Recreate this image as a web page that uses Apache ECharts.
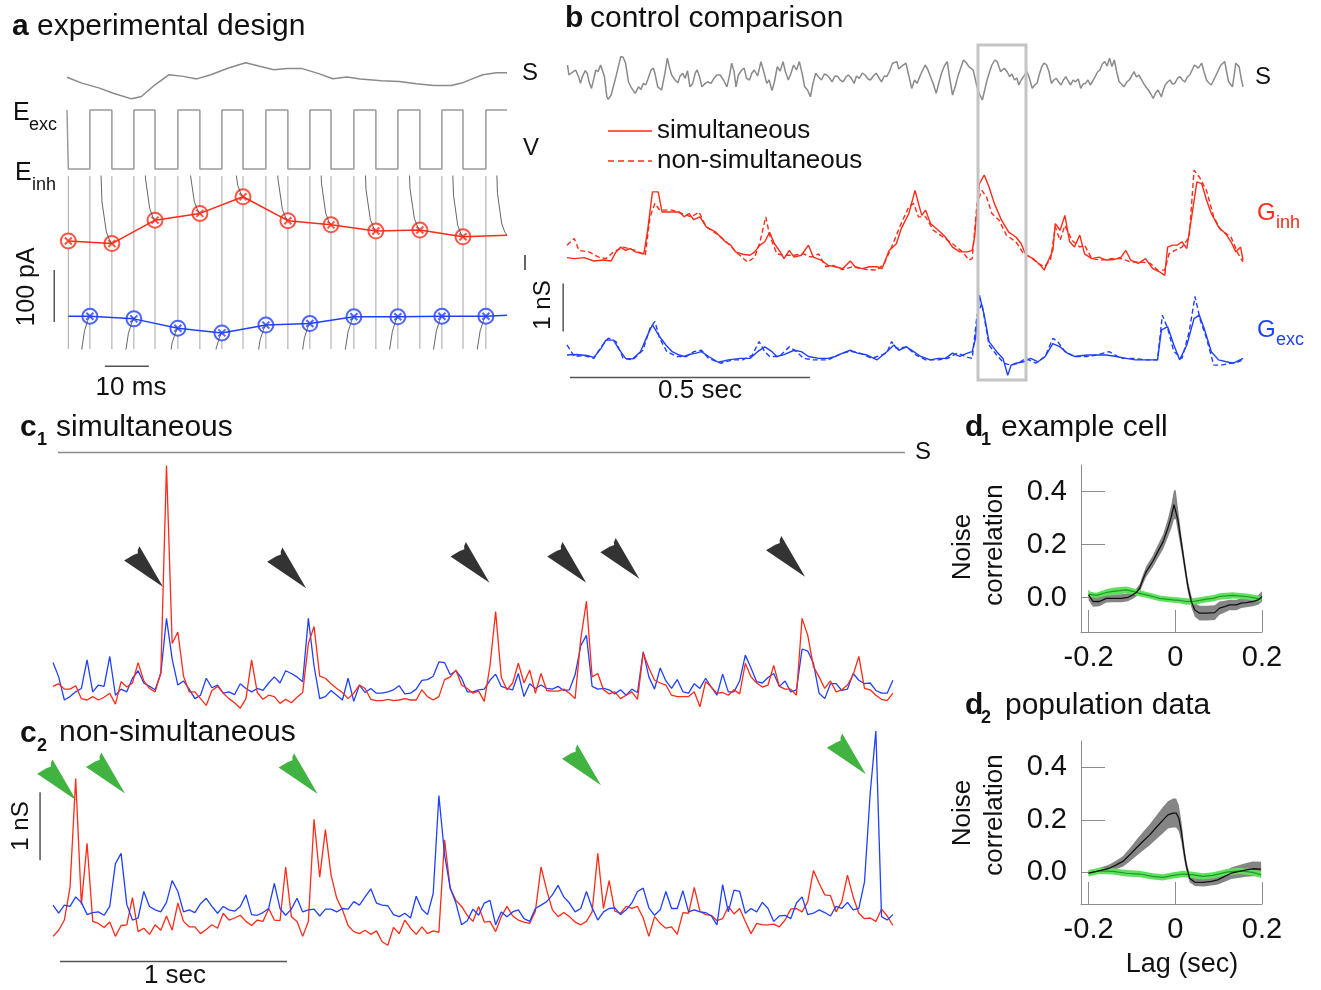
<!DOCTYPE html>
<html><head><meta charset="utf-8">
<script src="https://cdn.jsdelivr.net/npm/echarts@6/dist/echarts.min.js"></script>
<style>html,body{margin:0;padding:0;background:#fff}#c{width:1321px;height:990px}</style>
</head><body><div id="c"></div>
<script>
const RED='#ff2a17', BLUE='#2040ff', SGRAY='#8a8a8a';
const FONT='"Liberation Sans", Arial, sans-serif';

// ---------- panel a : experimental design (time in ms, current in pA) ----------
const aStim = [[0,0.18],[3.4,-0.1],[7.4,-0.34],[10.5,-0.58],[14.7,-0.85],[16.9,-0.74],[20,-0.18],[23.2,0.3],[26.4,0.22],[29.5,0.1],[32.7,0.3],[36.7,0.62],[40.6,0.87],[43.8,0.7],[47,0.54],[50.1,0.6],[53.3,0.6],[57.2,0.35],[60.4,0.11],[63.6,0.19],[66.7,0.1],[71.5,0.01],[75.5,-0.02],[79.4,-0.13],[83.4,-0.21],[87.3,-0.21],[89.7,-0.1],[92.1,0.1],[94.5,0.3],[97.6,0.39],[100,0.39]];
const aFallT = [0.3,10.2,20.0,30.2,40.0,50.2,60.0,70.2,80.2,90.0];
const aRiseT = [5.2,15.2,25.2,35.2,45.2,55.2,65.2,75.2,85.2,95.2];
const aEndT = 100;
const aVexc = 0, aVinh = -80;
const aInh = [38,33,78,91,123,77,69,57,59,46];
const aInhEnd = 49;
const aExc = [-107,-112,-130,-139,-124,-121,-108,-108,-107,-107];
const aExcStart = -107, aExcEnd = -105;
const aRelaxFromTop = [[0.4,260],[0.55,80],[0.75,22],[0.9,6],[1,0]];
const aRelaxFromBottom = [[0.45,-260],[0.6,-70],[0.75,-28],[0.9,-8],[1,0]];

// ---------- panel b : control comparison (time in ms, conductance in nS) ----------
const bStim = [[1,0.65],[4,0.15],[8,0.07],[13,0.32],[18,0.4],[24,0.07],[28,-0.27],[32,0.07],[38,0.37],[42,0.24],[46,-0.19],[51,-0.52],[56,-0.02],[60,0.4],[65,0.32],[70,0.65],[74,0.57],[78,0.07],[83,-0.94],[86,-1.07],[92,-0.85],[96,-0.77],[102,0.07],[107,0.57],[112,1.07],[117,1.04],[122,0.74],[128,-0.19],[133,-0.44],[142,-0.77],[149,-0.44],[154,-0.57],[159,-0.27],[164,-0.35],[169,-0.02],[175,0.4],[180,0.49],[183,0.24],[189,-0.44],[197,-0.6],[204,0.24],[209,0.99],[213,0.57],[218,0.15],[225,-0.1],[231,-0.24],[235,0.07],[241,0.24],[246,-0.02],[251,0.37],[256,-0.44],[262,-0.27],[267,0.24],[271,0.4],[276,0.07],[281,-0.44],[288,-0.27],[293,-0.19],[300,-0.27],[306,-0.02],[312,0.15],[319,0.15],[326,-0.1],[333,-0.44],[338,0.07],[343,0.74],[348,0.32],[352,-0.44],[357,0.15],[364,0.4],[369,0.49],[374,-0.02],[380,-0.1],[385,0.24],[390,0.4],[397,0.1],[404,0.82],[410,0.3],[416,-0.27],[421,-0.1],[427,-0.63],[432,-0.2],[438,0.57],[444,0.35],[450,0.82],[455,0.3],[461,-0.1],[466,0.2],[472,0.65],[478,0.4],[484,0.82],[490,0.2],[495,-0.44],[501,-0.6],[507,-0.94],[512,-0.3],[518,0.24],[524,0.05],[530,-0.1],[536,0.2],[541,0.15],[547,0.0],[552,-0.19],[558,0.1],[564,0.07],[569,-0.1],[575,-0.19],[581,0.05],[586,0.15],[592,0.0],[598,-0.27],[603,0.1],[609,-0.02],[615,0.25],[621,0.15],[627,-0.05],[632,-0.1],[638,0.1],[644,0.24],[650,0.0],[655,-0.19],[661,0.1],[666,0.07],[672,0.35],[678,0.74],[687,0.82],[691,0.45],[696,0.57],[706,0.74],[712,0.1],[718,-0.52],[724,-0.1],[729,-0.27],[737,0.2],[746,0.65],[751,0.45],[757,0.07],[763,-0.3],[769,-0.77],[775,-0.2],[780,0.24],[786,0.6],[792,0.82],[797,0.0],[803,-0.85],[809,-0.4],[814,0.07],[820,0.5],[826,0.9],[832,0.75],[837,0.57],[846,0.4],[854,-0.44],[859,-0.8],[865,-1.1],[870,-0.6],[875,-0.1],[880,0.3],[885,0.65],[891,0.9],[896,0.82],[903,0.32],[911,0.49],[917,0.3],[922,0.07],[927,0.2],[932,-0.1],[937,0.0],[941,-0.35],[946,-0.1],[951,0.07],[958,0.32],[963,0.0],[969,-0.52],[974,-0.35],[979,-0.27],[984,0.2],[989,0.57],[994,0.75],[999,0.65],[1004,0.3],[1009,-0.27],[1014,-0.1],[1019,-0.02],[1024,-0.2],[1029,-0.35],[1034,-0.1],[1039,0.07],[1044,-0.15],[1049,-0.35],[1054,-0.1],[1059,-0.19],[1065,-0.05],[1070,-0.52],[1075,-0.3],[1080,-0.27],[1085,-0.1],[1090,-0.35],[1095,-0.15],[1100,0.07],[1105,0.3],[1110,0.4],[1115,0.7],[1120,0.82],[1125,0.6],[1130,0.99],[1135,0.57],[1140,0.9],[1145,0.3],[1150,-0.19],[1155,-0.3],[1160,-0.44],[1166,-0.2],[1171,-0.1],[1176,0.1],[1181,0.32],[1186,0.05],[1191,0.15],[1196,-0.05],[1201,-0.27],[1206,-0.45],[1211,-0.6],[1216,-0.8],[1221,-1.02],[1226,-0.75],[1231,-0.6],[1238,-0.94],[1242,-0.6],[1246,-0.35],[1251,-0.2],[1256,-0.1],[1261,-0.3],[1266,-0.27],[1272,0.0],[1277,0.07],[1282,-0.1],[1287,-0.19],[1292,0.05],[1297,0.15],[1302,0.4],[1307,0.65],[1315,0.49],[1322,0.74],[1327,0.3],[1332,-0.1],[1337,-0.25],[1342,-0.35],[1347,-0.1],[1352,0.15],[1357,0.4],[1362,0.65],[1370,0.82],[1374,0.3],[1378,-0.19],[1386,-0.44],[1390,0.2],[1393,0.74],[1400,0.57],[1404,0.0],[1408,-0.44]];
const bInhSim = [[0,0.37],[15,0.35],[36,0.37],[56,0.30],[76,0.32],[92,0.30],[102,0.49],[112,0.59],[122,0.52],[132,0.56],[142,0.49],[160,0.45],[168,0.94],[178,1.74],[190,1.74],[198,1.32],[214,1.32],[234,1.32],[244,1.22],[254,1.29],[264,1.16],[277,1.22],[290,1.01],[310,0.90],[330,0.70],[341,0.63],[351,0.49],[366,0.44],[381,0.42],[391,0.49],[402,0.63],[412,0.70],[422,0.90],[432,0.66],[442,0.52],[452,0.35],[463,0.52],[473,0.38],[488,0.42],[503,0.63],[513,0.38],[529,0.32],[544,0.21],[559,0.18],[574,0.14],[590,0.30],[600,0.18],[615,0.14],[630,0.18],[646,0.18],[656,0.14],[671,0.52],[686,0.66],[696,0.97],[712,1.29],[725,1.77],[732,1.50],[739,1.25],[747,1.36],[757,1.08],[778,0.90],[788,0.80],[803,0.59],[818,0.49],[834,0.49],[844,0.52],[849,0.80],[859,1.91],[869,2.09],[879,1.84],[890,1.50],[905,1.15],[920,0.90],[935,0.80],[946,0.66],[956,0.42],[971,0.35],[986,0.21],[994,0.11],[1001,0.28],[1012,0.52],[1017,1.08],[1027,0.94],[1037,1.25],[1047,0.70],[1057,0.59],[1068,0.84],[1078,0.45],[1093,0.35],[1108,0.38],[1123,0.32],[1139,0.33],[1154,0.38],[1164,0.52],[1174,0.32],[1190,0.25],[1205,0.35],[1220,0.14],[1235,0.07],[1245,0.00],[1251,0.59],[1261,0.63],[1271,0.63],[1281,0.70],[1291,0.56],[1301,1.22],[1312,1.95],[1322,1.91],[1332,1.57],[1342,1.29],[1357,1.01],[1372,0.87],[1383,0.70],[1393,0.49],[1403,0.59],[1408,0.32]];
const bInhNon = [[0,0.63],[15,0.77],[25,0.52],[46,0.49],[66,0.38],[81,0.35],[97,0.49],[117,0.59],[142,0.52],[163,0.42],[173,1.22],[183,1.50],[193,1.36],[219,1.36],[239,1.29],[259,1.22],[275,1.32],[290,1.01],[315,0.84],[336,0.66],[356,0.45],[376,0.28],[391,0.38],[402,0.70],[414,1.22],[422,0.84],[437,0.45],[452,0.42],[473,0.42],[493,0.45],[508,0.38],[524,0.45],[539,0.18],[554,0.21],[574,0.12],[595,0.18],[625,0.12],[646,0.11],[661,0.25],[676,0.59],[696,1.08],[712,1.43],[722,1.50],[732,1.22],[747,1.22],[763,0.94],[783,0.80],[803,0.66],[824,0.49],[837,0.32],[844,0.35],[854,1.50],[864,1.77],[874,1.63],[885,1.29],[900,1.15],[915,0.84],[935,0.70],[951,0.45],[966,0.38],[981,0.25],[994,0.18],[1007,0.32],[1017,1.01],[1027,0.73],[1037,1.04],[1052,0.73],[1068,0.59],[1078,0.63],[1093,0.35],[1113,0.32],[1134,0.35],[1154,0.35],[1174,0.28],[1195,0.28],[1215,0.25],[1230,0.11],[1245,0.11],[1254,0.45],[1266,0.52],[1281,0.59],[1296,0.80],[1306,2.19],[1317,2.05],[1332,1.77],[1347,1.22],[1362,0.94],[1383,0.80],[1398,0.45],[1408,0.28]];
const bExcSim = [[0,0.22],[20,0.23],[41,0.21],[56,0.17],[71,0.36],[81,0.53],[97,0.53],[107,0.36],[122,0.15],[137,0.14],[153,0.29],[168,0.64],[178,0.85],[193,0.60],[206,0.43],[219,0.29],[234,0.22],[244,0.19],[254,0.23],[269,0.26],[280,0.29],[295,0.19],[315,0.07],[336,0.12],[361,0.15],[381,0.15],[397,0.29],[412,0.39],[427,0.29],[437,0.19],[452,0.23],[473,0.32],[488,0.29],[503,0.19],[524,0.15],[544,0.15],[559,0.19],[574,0.26],[590,0.32],[605,0.26],[625,0.22],[646,0.12],[666,0.29],[681,0.43],[691,0.32],[707,0.39],[722,0.29],[737,0.19],[757,0.12],[773,0.15],[788,0.15],[803,0.26],[818,0.19],[834,0.26],[844,0.29],[851,0.57],[859,1.47],[869,1.05],[879,0.50],[895,0.29],[908,0.15],[918,-0.20],[925,0.01],[935,0.05],[951,0.08],[966,0.15],[981,0.08],[996,0.19],[1012,0.46],[1027,0.39],[1042,0.26],[1057,0.19],[1083,0.22],[1103,0.22],[1123,0.22],[1144,0.19],[1164,0.15],[1184,0.12],[1205,0.12],[1230,0.12],[1238,0.74],[1251,0.81],[1264,0.43],[1276,0.12],[1291,0.43],[1306,0.98],[1317,1.05],[1327,0.78],[1342,0.29],[1357,0.12],[1373,0.08],[1388,0.05],[1408,0.15]];
const bExcNon = [[0,0.43],[15,0.19],[36,0.21],[56,0.15],[71,0.39],[86,0.57],[102,0.50],[117,0.15],[137,0.12],[158,0.32],[173,0.78],[183,0.92],[193,0.57],[208,0.29],[229,0.19],[249,0.19],[264,0.29],[280,0.32],[295,0.15],[320,0.05],[346,0.12],[366,0.12],[386,0.22],[400,0.50],[412,0.29],[422,0.19],[442,0.19],[463,0.39],[478,0.29],[493,0.15],[513,0.12],[544,0.12],[574,0.26],[590,0.30],[610,0.26],[635,0.15],[666,0.26],[676,0.50],[686,0.36],[707,0.39],[727,0.22],[747,0.12],[773,0.12],[793,0.15],[813,0.26],[829,0.19],[844,0.15],[854,1.05],[864,1.30],[879,0.43],[895,0.22],[910,0.05],[925,0.01],[940,0.05],[956,0.15],[976,0.05],[996,0.19],[1012,0.57],[1022,0.50],[1037,0.29],[1057,0.19],[1083,0.19],[1103,0.22],[1129,0.29],[1154,0.15],[1179,0.15],[1205,0.12],[1230,0.12],[1240,1.05],[1251,0.78],[1264,0.29],[1281,0.15],[1296,0.71],[1308,1.44],[1319,0.95],[1332,0.57],[1347,0.01],[1362,0.01],[1383,0.05],[1398,0.08],[1408,0.12]];

// ---------- panels c1/c2 (sampled every 25 ms, conductance in nS) ----------
const C_DT = 0.025;
const c1Blue = [0.55,0.34,0.0,0.05,0.12,0.17,0.59,0.12,0.22,0.2,
0.64,0.07,0.16,0.12,0.32,0.43,0.25,0.2,0.15,0.39,
1.2,0.6,0.22,0.28,0.16,0.02,0.07,0.32,0.18,0.22,
0.1,0.12,0.08,0.24,0.17,0.12,0.17,0.14,0.25,0.34,
0.25,0.43,0.39,0.34,0.27,1.2,0.5,0.02,0.05,0.14,
0.07,0.0,0.32,-0.02,0.22,0.11,0.17,0.1,0.1,0.12,
0.15,0.21,0.09,0.1,0.16,0.29,0.3,0.35,0.56,0.55,
0.37,0.43,0.32,0.12,0.12,0.15,0.16,0.29,0.38,0.2,
0.17,0.15,0.39,0.05,0.24,0.17,0.22,0.17,0.16,0.2,
0.14,0.15,0.37,0.8,0.95,0.2,0.16,0.17,0.15,0.09,
0.15,0.07,0.16,0.11,0.71,0.34,0.16,0.47,0.28,0.17,
0.3,0.12,0.1,0.24,0.17,0.32,0.19,0.07,0.38,0.12,
0.12,0.28,0.66,0.47,0.27,0.25,0.33,0.39,0.2,0.28,
0.12,0.15,0.75,0.72,0.54,0.1,0.02,0.24,0.24,0.14,
0.16,0.39,0.29,0.24,0.25,0.14,0.1,0.1,0.29];
const c1Red = [0.2,0.24,0.16,0.16,0.21,0.02,0.0,0.05,0.0,0.04,
0.1,-0.06,0.27,0.19,0.25,0.55,0.28,0.17,0.12,0.4,
3.45,0.83,1.0,0.35,0.12,0.12,0.02,-0.08,0.14,0.2,
0.1,0.02,-0.04,-0.12,0.02,0.59,0.11,0.01,0.07,0.05,
-0.05,0.01,-0.04,0.04,0.11,0.83,1.08,0.35,0.32,0.24,
0.17,0.11,0.02,0.1,0.22,0.17,0.01,-0.01,-0.01,0.01,
-0.01,0.0,0.02,0.0,0.0,0.15,0.05,0.0,0.05,0.3,
0.34,0.44,0.22,0.17,0.1,0.13,-0.02,0.5,1.3,0.33,
0.15,0.25,0.54,0.25,0.44,0.1,0.39,0.14,0.13,0.13,
0.16,0.1,0.02,0.9,1.45,0.34,0.39,0.15,0.09,0.12,
0.02,0.07,0.12,0.01,0.69,0.47,0.29,0.25,0.22,0.07,
0.05,0.05,0.05,0.12,-0.1,0.27,0.19,0.1,0.11,0.07,
0.15,0.09,0.54,0.34,0.25,0.19,0.22,0.51,0.2,0.16,
0.16,0.07,1.2,0.95,0.49,0.34,0.17,0.28,0.12,0.15,
0.22,0.37,0.64,0.17,0.15,0.07,0.01,-0.01,0.1];
const c2Blue = [0.44,0.32,0.44,0.42,0.56,0.48,0.3,0.33,0.34,0.29,
0.42,1.05,1.2,0.45,0.22,0.25,0.64,0.42,0.37,0.34,
0.48,0.8,0.64,0.34,0.37,0.33,0.46,0.54,0.42,0.32,
0.42,0.37,0.35,0.42,0.59,0.3,0.29,0.33,0.39,0.76,
0.39,0.29,0.38,0.54,0.34,0.37,0.38,0.28,0.38,0.38,
0.34,0.39,0.38,0.49,0.44,0.56,0.68,0.47,0.44,0.43,
0.3,0.27,0.32,0.25,0.57,0.38,0.3,0.61,2.05,1.18,
0.69,0.47,0.15,0.21,0.38,0.29,0.47,0.51,0.15,0.34,
0.27,0.34,0.37,0.24,0.2,0.39,0.44,0.49,0.59,0.73,
0.56,0.47,0.34,0.39,0.64,0.4,0.22,0.34,0.39,0.4,
0.3,0.37,0.47,0.64,0.69,0.4,0.29,0.37,0.64,0.39,
0.39,0.65,0.34,0.37,0.34,0.33,0.28,0.15,0.74,0.34,
0.66,0.64,0.32,0.39,0.34,0.48,0.39,0.2,0.28,0.29,
0.24,0.47,0.56,0.3,0.32,0.37,0.33,0.28,0.42,0.39,
0.48,0.37,0.39,0.78,2.08,3.0,0.27,0.22,0.3];
const c2Red = [-0.02,0.07,0.22,0.7,2.3,0.45,1.35,0.2,0.17,0.11,
0.19,-0.02,0.14,0.15,0.55,0.05,0.1,0.01,0.15,0.07,
0.28,0.07,0.47,0.2,0.12,0.12,0.02,0.08,0.15,0.1,
0.32,0.22,0.25,0.29,0.2,0.14,0.22,0.2,0.39,0.22,
0.21,1.0,0.27,0.2,-0.02,0.2,1.7,0.85,1.55,0.88,
0.54,0.37,0.14,0.05,0.02,0.07,0.01,0.06,-0.1,-0.15,
0.11,0.02,0.22,0.1,0.01,0.12,0.02,0.06,0.04,1.4,
0.68,0.51,0.42,0.29,0.2,0.42,0.19,0.2,0.05,0.27,
0.42,0.28,0.22,0.19,0.17,0.35,1.0,0.66,0.37,0.27,
0.33,0.27,0.19,0.15,0.2,0.34,1.2,0.39,0.8,0.35,
0.32,0.42,0.39,0.42,0.25,-0.02,0.27,0.17,0.1,0.12,
0.01,0.33,0.32,0.7,0.35,0.3,0.29,0.21,0.24,0.42,
0.31,0.39,0.2,0.02,0.17,0.15,0.15,0.16,0.12,0.22,
0.38,0.39,0.34,0.49,0.95,0.76,0.59,0.58,0.34,0.49,
0.88,0.56,0.32,0.24,0.25,0.2,0.38,0.28,0.14];
const c1Arrows = [[0.416,1.91],[1.046,1.89],[1.854,1.97],[2.28,1.97],[2.514,2.03],[3.244,2.06]];
const c2Arrows = [[0.033,2.23],[0.248,2.33],[1.097,2.32],[2.345,2.45],[3.512,2.61]];

// ---------- panels d1/d2 : noise correlation vs lag (sec) ----------
const d1LagK = [-0.2,-0.19,-0.175,-0.159,-0.144,-0.125,-0.109,-0.098,-0.09,-0.082,-0.075,-0.067,-0.052,-0.04,-0.028,-0.017,-0.009,-0.003,0.001,0.006,0.014,0.022,0.029,0.037,0.045,0.056,0.072,0.091,0.102,0.114,0.125,0.141,0.152,0.164,0.179,0.191,0.2];
const d1Sim = [0.01,-0.015,-0.015,-0.003,-0.003,-0.003,0.001,0.01,0.019,0.035,0.067,0.098,0.136,0.174,0.211,0.262,0.306,0.35,0.35,0.293,0.205,0.117,0.042,-0.015,-0.047,-0.059,-0.059,-0.057,-0.04,-0.034,-0.028,-0.028,-0.021,-0.019,-0.015,-0.009,0.004];
const d1SimErr = [0.02,0.02,0.018,0.016,0.015,0.015,0.015,0.015,0.015,0.016,0.018,0.02,0.022,0.025,0.028,0.035,0.045,0.055,0.055,0.045,0.03,0.025,0.022,0.022,0.025,0.028,0.028,0.028,0.025,0.022,0.02,0.02,0.018,0.018,0.018,0.018,0.02];
const d1LagG = [-0.2,-0.182,-0.159,-0.144,-0.128,-0.113,-0.098,-0.082,-0.067,-0.052,-0.036,-0.021,-0.005,0.01,0.025,0.041,0.056,0.072,0.087,0.102,0.118,0.133,0.148,0.164,0.179,0.198];
const d1Non = [0.013,0.008,0.019,0.023,0.026,0.029,0.023,0.016,0.01,0.004,-0.003,-0.006,-0.009,-0.011,-0.015,-0.015,-0.011,-0.006,-0.003,0.004,0.006,0.008,0.006,0.004,0.0,-0.006];
const d1NonErr = [0.01,0.01,0.012,0.014,0.014,0.013,0.012,0.012,0.011,0.011,0.011,0.011,0.011,0.011,0.012,0.012,0.012,0.012,0.012,0.012,0.012,0.012,0.011,0.011,0.011,0.011];
const d2LagK = [-0.2,-0.182,-0.167,-0.152,-0.136,-0.121,-0.105,-0.09,-0.075,-0.059,-0.044,-0.028,-0.017,-0.005,0.002,0.008,0.014,0.019,0.025,0.033,0.045,0.064,0.083,0.098,0.114,0.129,0.148,0.164,0.179,0.198];
const d2Sim = [-0.003,0.004,0.01,0.016,0.029,0.042,0.067,0.093,0.118,0.143,0.171,0.2,0.219,0.226,0.226,0.207,0.156,0.093,0.029,-0.022,-0.037,-0.038,-0.034,-0.028,-0.015,-0.003,0.004,0.01,0.014,0.013];
const d2SimErr = [0.01,0.01,0.012,0.014,0.016,0.02,0.025,0.03,0.035,0.04,0.045,0.05,0.052,0.055,0.055,0.05,0.04,0.03,0.02,0.015,0.015,0.015,0.016,0.018,0.02,0.022,0.024,0.026,0.028,0.028];
const d2LagG = [-0.2,-0.175,-0.144,-0.113,-0.082,-0.052,-0.028,-0.005,0.018,0.041,0.064,0.087,0.118,0.148,0.179,0.198];
const d2Non = [-0.003,0.006,0.004,-0.003,-0.006,-0.015,-0.019,-0.011,-0.006,-0.009,-0.015,-0.011,0.001,0.006,0.0,-0.009];
const d2NonErr = [0.012,0.012,0.012,0.012,0.012,0.012,0.012,0.012,0.012,0.012,0.012,0.012,0.012,0.012,0.012,0.012];
const dTicksX = [-0.2,0,0.2];
const dTicksY = [0,0.2,0.4];

// ---------- build derived polylines ----------
const aSquare = [[0,aVexc]];
for (let k=0;k<aFallT.length;k++){
  aSquare.push([aFallT[k],aVexc],[aFallT[k],aVinh],[aRiseT[k],aVinh],[aRiseT[k],aVexc]);
}
aSquare.push([aEndT,aVexc]);
const n=aFallT.length;
const aCurves=[];
for (let k=0;k<n;k++){
  const h1=aRiseT[k]-aFallT[k];
  aRelaxFromBottom.forEach(([f,o])=>aCurves.push([aFallT[k]+f*h1, aExc[k]+o]));
  aCurves.push([aRiseT[k],null]);
  const nt=k+1<n?aFallT[k+1]:aEndT, tv=k+1<n?aInh[k+1]:aInhEnd;
  const h2=nt-aRiseT[k];
  aRelaxFromTop.forEach(([f,o])=>aCurves.push([aRiseT[k]+f*h2, tv+o]));
  aCurves.push([nt,null]);
}
const aEdges = aFallT.concat(aRiseT).map(t=>[t,0]);
const aInhPts = aFallT.map((t,i)=>[t,aInh[i]]);
const aExcPts = aRiseT.map((t,i)=>[t,aExc[i]]);
const aInhLine = aInhPts.concat([[aEndT,aInhEnd]]);
const aExcLine = [[aFallT[0],aExcStart]].concat(aExcPts,[[aEndT,aExcEnd]]);
const cPts = arr => arr.map((v,i)=>[+(i*C_DT).toFixed(3), v]);
const zip = (xs,ys) => xs.map((x,i)=>[x,ys[i]]);

// ---------- chart ----------
const grids = [
  {left:67,top:60,width:440,height:42},
  {left:67,top:110,width:440,height:59},
  {left:49.4,top:176,width:457.6,height:173},
  {left:567,top:55,width:676,height:46},
  {left:567,top:160.2,width:676,height:120},
  {left:562.2,top:281.6,width:680.8,height:98.4},
  {left:53,top:448.4,width:853.5,height:265.2},
  {left:37.11,top:724.2,width:869.39,height:231.2},
  {left:1081,top:465,width:181,height:167},
  {left:1081,top:741,width:181,height:163}
];
const hx = (g,min,max)=>({gridIndex:g,type:'value',min,max,show:false});
const AX='#8c8c8c';
const dX = g=>({gridIndex:g,type:'value',min:-0.2175,max:0.2,
  axisLine:{show:true,onZero:false,lineStyle:{color:AX,width:1}},
  axisTick:{show:true,inside:true,length:22,customValues:dTicksX,lineStyle:{color:AX,width:1}},
  axisLabel:{show:true,customValues:dTicksX,formatter:v=>v===0?'0':v.toFixed(1),fontSize:29,color:'#111',fontFamily:FONT,margin:11},
  splitLine:{show:false}});
const dY = (g,min)=>({gridIndex:g,type:'value',min,max:0.5,
  axisLine:{show:true,onZero:false,lineStyle:{color:AX,width:1}},
  axisTick:{show:true,inside:true,length:24,customValues:dTicksY,lineStyle:{color:AX,width:1}},
  axisLabel:{show:true,customValues:dTicksY,formatter:v=>v.toFixed(1),fontSize:29,color:'#111',fontFamily:FONT,margin:14},
  splitLine:{show:false}});

const L = (g,data,color,width,extra={}) => Object.assign({type:'line',xAxisIndex:g,yAxisIndex:g,data,showSymbol:false,symbol:'none',silent:true,animation:false,connectNulls:false,
  lineStyle:{color,width,type:extra.dash||'solid'}}, extra.opts||{});
const band = (g,lag,mean,err,fill) => ({type:'custom',coordinateSystem:'cartesian2d',xAxisIndex:g,yAxisIndex:g,silent:true,animation:false,data:[[0,0]],
  renderItem:(p,api)=>{const pts=[];for(let i=0;i<lag.length;i++)pts.push(api.coord([lag[i],mean[i]+err[i]]));
    for(let i=lag.length-1;i>=0;i--)pts.push(api.coord([lag[i],mean[i]-err[i]]));
    return {type:'polygon',shape:{points:pts},style:{fill}};}});
const ARROW='path://M100,50 L0,4 L4,22 L9,30 L5,50 L0,96 Z';
const arrows = (g,data,color)=>({type:'scatter',xAxisIndex:g,yAxisIndex:g,data,symbol:ARROW,symbolSize:[46,21],symbolRotate:-47,silent:true,animation:false,itemStyle:{color}});

const series = [
  // a
  L(0,aStim,SGRAY,1.5),
  L(1,aSquare,'#9a9a9a',1.5,{opts:{clip:false}}),
  {type:'custom',coordinateSystem:'cartesian2d',xAxisIndex:2,yAxisIndex:2,silent:true,animation:false,data:aEdges,
    renderItem:(p,api)=>{const t=api.value(0);const a=api.coord([t,-170]);const b=api.coord([t,163]);
      return {type:'line',shape:{x1:a[0],y1:a[1],x2:b[0],y2:b[1]},style:{stroke:'#a6a6a6',lineWidth:1}};}},
  L(2,aCurves,'#555',0.9),
  L(2,aInhLine,RED,1.5),
  L(2,aExcLine,BLUE,1.5),
  {type:'scatter',xAxisIndex:2,yAxisIndex:2,data:aInhPts,symbol:'emptyCircle',symbolSize:15,silent:true,animation:false,itemStyle:{color:RED,borderWidth:1.3}},
  {type:'scatter',xAxisIndex:2,yAxisIndex:2,data:aExcPts,symbol:'emptyCircle',symbolSize:15,silent:true,animation:false,itemStyle:{color:BLUE,borderWidth:1.3}},
  {type:'scatter',xAxisIndex:2,yAxisIndex:2,data:aInhPts,symbol:'path://M0,0 L10,10 M10,0 L0,10',symbolSize:7,silent:true,animation:false,itemStyle:{color:'rgba(0,0,0,0)',borderColor:RED,borderWidth:2}},
  {type:'scatter',xAxisIndex:2,yAxisIndex:2,data:aExcPts,symbol:'path://M0,0 L10,10 M10,0 L0,10',symbolSize:7,silent:true,animation:false,itemStyle:{color:'rgba(0,0,0,0)',borderColor:BLUE,borderWidth:2}},
  L(2,[[-2.9,-118],[-2.9,-18]],'#555',1.5,{opts:{clip:false}}),
  L(2,[[8.6,-203],[18.6,-203]],'#555',1.5,{opts:{clip:false}}),
  // b
  L(3,bStim,SGRAY,1.5),
  L(4,bInhNon,RED,1.4,{dash:[5,3]}),
  L(4,bInhSim,RED,1.4),
  L(5,bExcNon,BLUE,1.4,{dash:[5,3]}),
  L(5,bExcSim,BLUE,1.4),
  L(5,[[-8,0.71],[-8,1.71]],'#555',1.5,{opts:{clip:false}}),
  L(5,[[6,-0.25],[506,-0.25]],'#555',1.5,{opts:{clip:false}}),
  // c1
  L(6,[[0.022,3.64],[3.753,3.64]],'#8a8a8a',1.6,{opts:{clip:false}}),
  L(6,cPts(c1Blue),BLUE,1.3),
  L(6,cPts(c1Red),RED,1.3),
  arrows(6,c1Arrows,'#000'),
  // c2
  L(7,cPts(c2Red),RED,1.3),
  L(7,cPts(c2Blue),BLUE,1.3),
  arrows(7,c2Arrows,'#11a011'),
  L(7,[[-0.057,1.1],[-0.057,2.1]],'#555',1.5,{opts:{clip:false}}),
  L(7,[[0.031,-0.39],[1.031,-0.39]],'#555',1.5,{opts:{clip:false}}),
  // d1
  band(8,d1LagK,d1Sim,d1SimErr,'#858585'),
  band(8,d1LagG,d1Non,d1NonErr,'#5fe05f'),
  L(8,zip(d1LagG,d1Non),'#1f9a1f',1.2),
  L(8,zip(d1LagK,d1Sim),'#111',1.3),
  // d2
  band(9,d2LagK,d2Sim,d2SimErr,'#858585'),
  band(9,d2LagG,d2Non,d2NonErr,'#5fe05f'),
  L(9,zip(d2LagG,d2Non),'#1f9a1f',1.2),
  L(9,zip(d2LagK,d2Sim),'#111',1.3)
];

const T = (x,y,text,size,o={}) => ({type:'text',x,y,rotation:o.rot||0,silent:true,z:100,
  style:{text,font:(o.bold?'bold ':'')+size+'px '+FONT,fill:o.color||'#111',align:o.align||'left',verticalAlign:'middle'}});
const R90 = Math.PI/2;
const graphic = [
  T(12,27,'a',30,{bold:1}), T(37,27,'experimental design',30),
  T(530,73,'S',24,{align:'center'}), T(531,148,'V',24,{align:'center'}),
  T(13,113,'E',25), T(29,125,'exc',18),
  T(15,173,'E',25), T(32,185,'inh',18),
  T(27,287,'100 pA',25,{rot:R90,align:'center'}),
  T(131,388,'10 ms',26,{align:'center'}),
  T(565,19,'b',30,{bold:1}), T(590,19,'control comparison',30),
  T(1263,77,'S',24,{align:'center'}),
  T(657,131,'simultaneous',26), T(657,161,'non-simultaneous',26),
  T(1257,213,'G',24,{color:RED}), T(1276,223,'inh',18,{color:RED}),
  T(1257,330,'G',24,{color:BLUE}), T(1276,340,'exc',18,{color:BLUE}),
  T(543,305,'1 nS',24,{rot:R90,align:'center'}),
  T(700,391,'0.5 sec',26,{align:'center'}),
  T(20,428,'c',30,{bold:1}), T(37,440,'1',18,{bold:1}), T(56,428,'simultaneous',30),
  T(923,452,'S',24,{align:'center'}),
  T(20,734,'c',30,{bold:1}), T(37,746,'2',18,{bold:1}), T(59,733,'non-simultaneous',30),
  T(21,826,'1 nS',24,{rot:R90,align:'center'}),
  T(175,976,'1 sec',26,{align:'center'}),
  T(965,428,'d',30,{bold:1}), T(981,440,'1',18,{bold:1}), T(1001,428,'example cell',30),
  T(963,547,'Noise',26,{rot:R90,align:'center'}), T(995,545,'correlation',26,{rot:R90,align:'center'}),
  T(965,706,'d',30,{bold:1}), T(981,718,'2',18,{bold:1}), T(1005,706,'population data',30),
  T(963,813,'Noise',26,{rot:R90,align:'center'}), T(995,815,'correlation',26,{rot:R90,align:'center'}),
  T(1182,965,'Lag (sec)',27,{align:'center'}),
  {type:'line',silent:true,shape:{x1:608,y1:131,x2:652,y2:131},style:{stroke:RED,lineWidth:1.5}},
  {type:'line',silent:true,shape:{x1:608,y1:161,x2:652,y2:161},style:{stroke:RED,lineWidth:1.5,lineDash:[6,4]}},
  {type:'line',silent:true,shape:{x1:525,y1:255,x2:525,y2:270},style:{stroke:'#333',lineWidth:1.5}},
  {type:'rect',silent:true,z:50,shape:{x:978,y:45,width:48,height:335},style:{fill:'none',stroke:'#c4c4c4',lineWidth:3}}
];

const chart = echarts.init(document.getElementById('c'),null,{renderer:'canvas'});
chart.setOption({
  animation:false,
  backgroundColor:'#fff',
  textStyle:{fontFamily:FONT},
  grid:grids,
  xAxis:[hx(0,0,100),hx(1,0,100),hx(2,-4,100),hx(3,0,1408),hx(4,0,1408),hx(5,-10,1408),hx(6,0,3.76),hx(7,-0.07,3.76),dX(8),dX(9)],
  yAxis:[hx(0,-1,1),hx(1,-80,0),hx(2,-170,163),hx(3,-1.15,1.15),hx(4,-0.1,2.4),hx(5,-0.3,1.75),hx(6,-0.2,3.7),hx(7,-0.3,3.1),dY(8,-0.13),dY(9,-0.12)],
  series,
  graphic
});
</script></body></html>
